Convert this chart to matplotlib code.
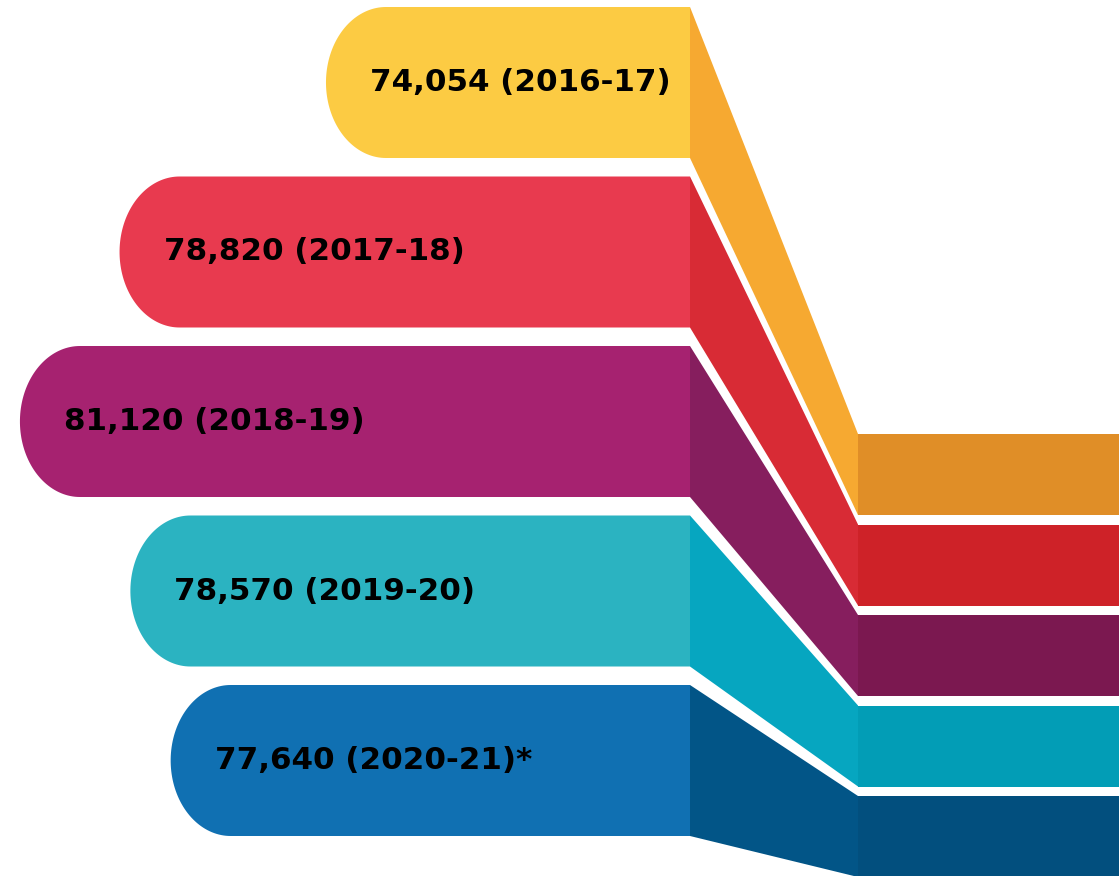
import numpy as np
import matplotlib.pyplot as plt
from matplotlib.patches import Polygon

# data
years = ["2016-17", "2017-18", "2018-19", "2019-20", "2020-21"]
totals = [74054, 78820, 81120, 78570, 77640]
notes = ["", "", "", "", "*"]

pill_colors = ["#FCCB43", "#E83A4F", "#A62270", "#2BB3C1", "#1070B2"]
ramp_colors = ["#F6A931", "#D82B35", "#861E5E", "#06A6C0", "#025587"]
tail_colors = ["#E08E27", "#CE2228", "#7B1850", "#029DB6", "#024F7E"]

W, H = 1119, 876
fig = plt.figure(figsize=(W / 100, H / 100), dpi=100)

# pixel-like layout axes
ax = fig.add_axes([0, 0, 1, 1])
ax.set_xlim(0, W)
ax.set_ylim(H, 0)
ax.axis("off")

# value axes: pill length grows leftward with the total
vax = fig.add_axes([0, 0, 1, 1], zorder=-1)
vax.set_xlim(81580, 55745)
vax.axis("off")
to_px = vax.transData + ax.transData.inverted()

pill_end, ramp_end = 690, 858
pill_top, pill_h, pill_step = 7, 151, 169.5
tail_top, tail_h, tail_step = 434, 81, 90.5
rx = 60


def pill(x0, x1, top, h, color):
    ry = h / 2
    cy = top + ry
    t = np.linspace(np.pi / 2, 3 * np.pi / 2, 80)
    xs = x0 + rx + rx * np.cos(t)
    ys = cy - ry * np.sin(t)
    pts = list(zip(xs, ys)) + [(x1, top + h), (x1, top)]
    ax.add_patch(Polygon(pts, closed=True, facecolor=color, edgecolor="none"))


for i, (yr, val, note) in enumerate(zip(years, totals, notes)):
    top = pill_top + i * pill_step
    rtop = tail_top + i * tail_step
    left = to_px.transform((val, 0))[0]

    pill(left, pill_end, top, pill_h, pill_colors[i])
    ax.add_patch(Polygon([(pill_end, top), (ramp_end, rtop),
                          (ramp_end, rtop + tail_h), (pill_end, top + pill_h)],
                         closed=True, facecolor=ramp_colors[i], edgecolor="none"))
    ax.add_patch(Polygon([(ramp_end, rtop), (W, rtop), (W, rtop + tail_h),
                          (ramp_end, rtop + tail_h)],
                         closed=True, facecolor=tail_colors[i], edgecolor="none"))

    ax.text(left + 44, top + pill_h / 2, f"{val:,} ({yr}){note}",
            ha="left", va="center", fontsize=22.3, fontweight="bold",
            color="#000000")

fig.savefig("out.png", dpi=100)
